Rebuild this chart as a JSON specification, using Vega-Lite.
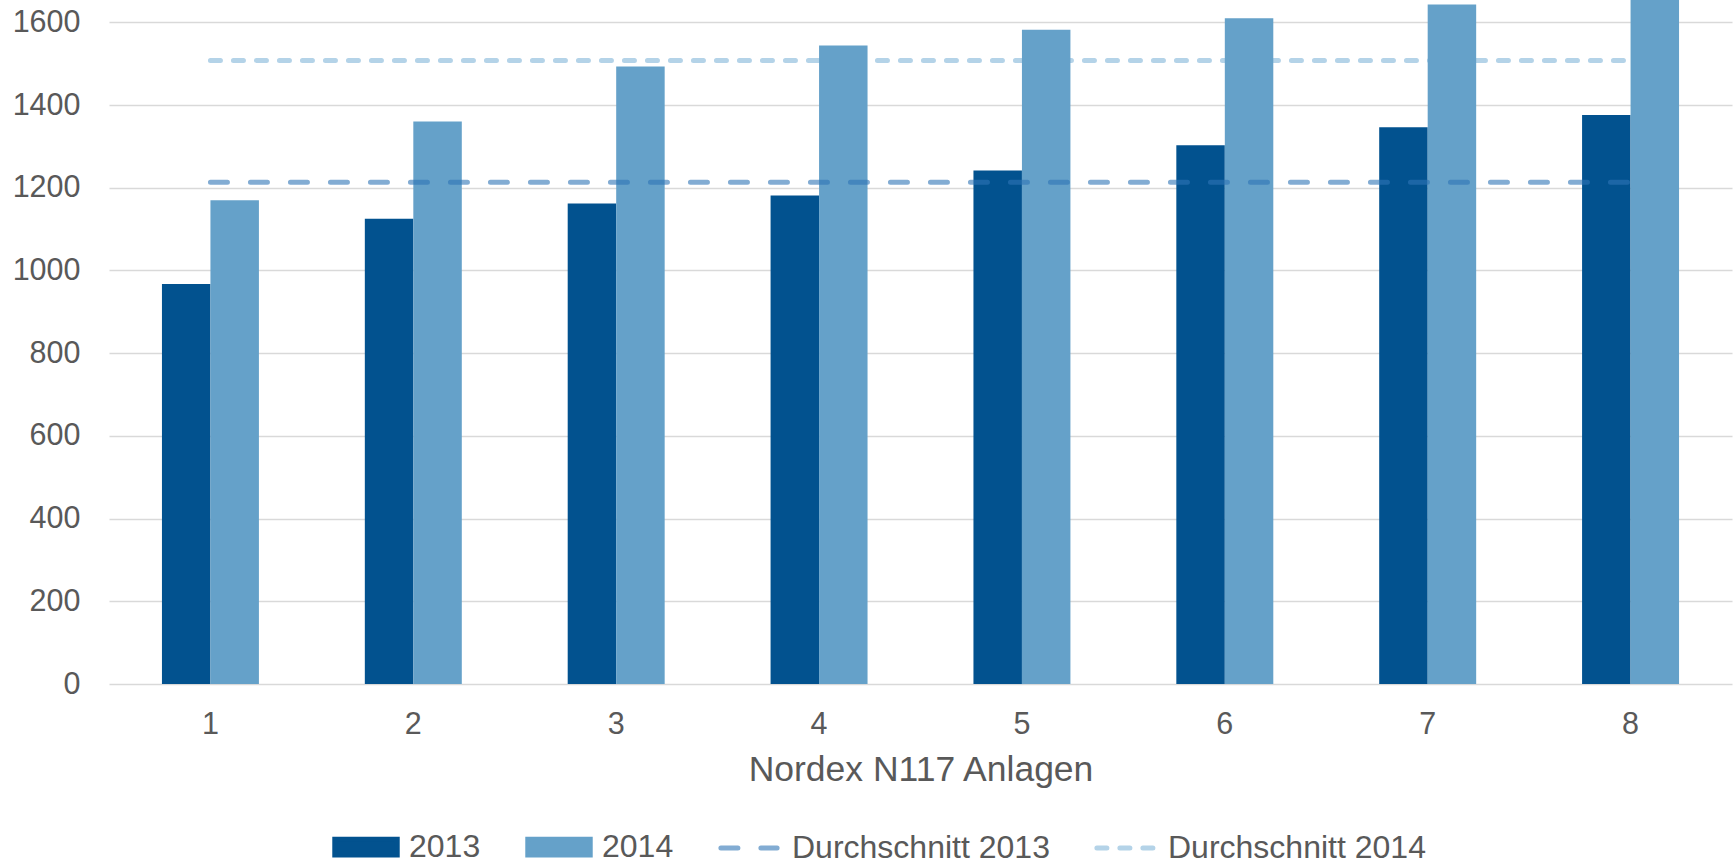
{
  "$schema": "https://vega.github.io/schema/vega-lite/v6.json",
  "width": 1623,
  "height": 684,
  "autosize": {"type": "none"},
  "padding": {"left": 109, "top": 0, "right": 2, "bottom": 180},
  "background": "white",
  "config": {"view": {"stroke": null}, "font": "Liberation Sans"},
  "datasets": {
    "bars": [
      {"anlage": "1", "serie": "2013", "wert": 967},
      {"anlage": "1", "serie": "2014", "wert": 1170},
      {"anlage": "2", "serie": "2013", "wert": 1125},
      {"anlage": "2", "serie": "2014", "wert": 1360},
      {"anlage": "3", "serie": "2013", "wert": 1162},
      {"anlage": "3", "serie": "2014", "wert": 1493},
      {"anlage": "4", "serie": "2013", "wert": 1181},
      {"anlage": "4", "serie": "2014", "wert": 1544},
      {"anlage": "5", "serie": "2013", "wert": 1242},
      {"anlage": "5", "serie": "2014", "wert": 1582},
      {"anlage": "6", "serie": "2013", "wert": 1303},
      {"anlage": "6", "serie": "2014", "wert": 1610},
      {"anlage": "7", "serie": "2013", "wert": 1346},
      {"anlage": "7", "serie": "2014", "wert": 1643},
      {"anlage": "8", "serie": "2013", "wert": 1376},
      {"anlage": "8", "serie": "2014", "wert": 1662}
    ],
    "avg2013": [
      {"anlage": "1", "serie": "Durchschnitt 2013", "wert": 1213},
      {"anlage": "2", "serie": "Durchschnitt 2013", "wert": 1213},
      {"anlage": "3", "serie": "Durchschnitt 2013", "wert": 1213},
      {"anlage": "4", "serie": "Durchschnitt 2013", "wert": 1213},
      {"anlage": "5", "serie": "Durchschnitt 2013", "wert": 1213},
      {"anlage": "6", "serie": "Durchschnitt 2013", "wert": 1213},
      {"anlage": "7", "serie": "Durchschnitt 2013", "wert": 1213},
      {"anlage": "8", "serie": "Durchschnitt 2013", "wert": 1213}
    ],
    "avg2014": [
      {"anlage": "1", "serie": "Durchschnitt 2014", "wert": 1508},
      {"anlage": "2", "serie": "Durchschnitt 2014", "wert": 1508},
      {"anlage": "3", "serie": "Durchschnitt 2014", "wert": 1508},
      {"anlage": "4", "serie": "Durchschnitt 2014", "wert": 1508},
      {"anlage": "5", "serie": "Durchschnitt 2014", "wert": 1508},
      {"anlage": "6", "serie": "Durchschnitt 2014", "wert": 1508},
      {"anlage": "7", "serie": "Durchschnitt 2014", "wert": 1508},
      {"anlage": "8", "serie": "Durchschnitt 2014", "wert": 1508}
    ]
  },
  "encoding": {
    "x": {
      "field": "anlage",
      "type": "ordinal",
      "scale": {"paddingInner": 0.522, "paddingOuter": 0.261},
      "title": "Nordex N117 Anlagen",
      "axis": {
        "labelAngle": 0,
        "labelFontSize": 30.5,
        "labelColor": "#595959",
        "labelPadding": 25,
        "ticks": false,
        "tickSize": 0,
        "domain": false,
        "grid": false,
        "titleFontSize": 35.5,
        "titleFontWeight": "normal",
        "titleColor": "#595959",
        "titlePadding": 13
      }
    },
    "y": {
      "field": "wert",
      "type": "quantitative",
      "scale": {"domain": [0, 1654], "nice": false, "zero": true},
      "axis": {
        "values": [0, 200, 400, 600, 800, 1000, 1200, 1400, 1600],
        "format": "d",
        "grid": true,
        "gridColor": "#D9D9D9",
        "gridWidth": 1.5,
        "domain": false,
        "ticks": false,
        "tickSize": 0,
        "labelPadding": 29,
        "labelFontSize": 30.5,
        "labelColor": "#595959",
        "title": null
      }
    },
    "color": {
      "field": "serie",
      "type": "nominal",
      "scale": {
        "domain": ["2013", "2014", "Durchschnitt 2013", "Durchschnitt 2014"],
        "range": ["#02528F", "#65A1C9", "rgba(46,117,182,0.6)", "#B4D3E8"]
      },
      "legend": {
        "orient": "none",
        "legendX": 223,
        "legendY": 813,
        "direction": "horizontal",
        "title": null,
        "symbolSize": 3900,
        "labelFontSize": 32,
        "labelColor": "#595959",
        "labelOffset": 9,
        "labelLimit": 0,
        "columnPadding": 36,
        "encode": {
          "symbols": {
            "update": {
              "shape": {"signal": "datum.value === '2013' || datum.value === '2014' ? 'M-1,-0.25H1V0.25H-1Z' : 'M-0.9,0H0.9'"},
              "fill": {"signal": "datum.value === '2013' || datum.value === '2014' ? scale('color', datum.value) : 'transparent'"},
              "stroke": {"signal": "datum.value === '2013' || datum.value === '2014' ? 'transparent' : scale('color', datum.value)"},
              "strokeWidth": {"value": 5},
              "strokeCap": {"value": "round"},
              "opacity": {"value": 1},
              "fillOpacity": {"value": 1},
              "strokeOpacity": {"value": 1},
              "strokeDash": {"signal": "datum.value === 'Durchschnitt 2013' ? [17, 23] : datum.value === 'Durchschnitt 2014' ? [10, 13] : [1, 0]"}
            }
          }
        }
      }
    }
  },
  "layer": [
    {
      "data": {"name": "avg2014"},
      "mark": {"type": "line", "strokeWidth": 5, "strokeDash": [10, 13], "strokeCap": "round"}
    },
    {
      "data": {"name": "bars"},
      "mark": {"type": "bar", "clip": true},
      "encoding": {
        "xOffset": {"field": "serie", "type": "nominal", "scale": {"paddingInner": 0, "paddingOuter": 0}}
      }
    },
    {
      "data": {"name": "avg2013"},
      "mark": {"type": "line", "strokeWidth": 5, "strokeDash": [17, 23], "strokeCap": "round"}
    }
  ]
}
